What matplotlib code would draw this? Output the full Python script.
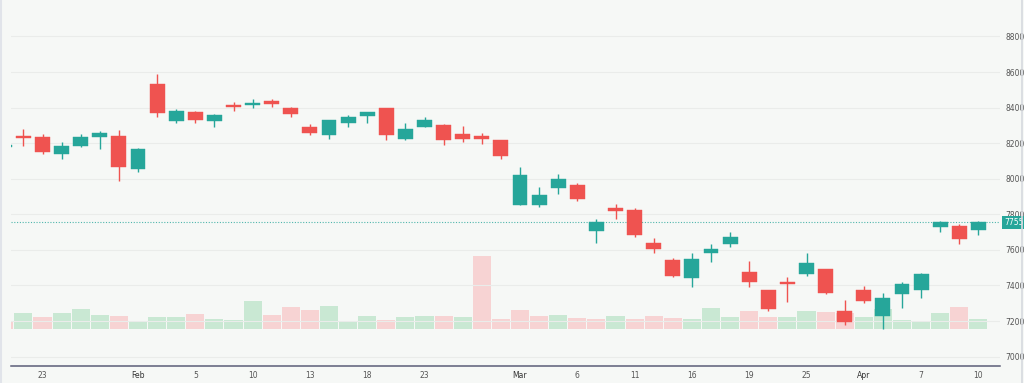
import matplotlib
matplotlib.use('Agg')
import matplotlib.pyplot as plt
import matplotlib.transforms as mtransforms
from matplotlib.lines import Line2D
from matplotlib.patches import Circle
import numpy as np

# 資料
opens = [8178, 8242, 8233, 8141, 8184, 8235, 8239, 8055, 8531, 8323,
         8374, 8323, 8417, 8415, 8436, 8396, 8289, 8244, 8315, 8353,
         8396, 8224, 8291, 8304, 8252, 8240, 8220, 7851, 7851, 7948,
         7965, 7704, 7836, 7824, 7640, 7543, 7440, 7582, 7635, 7477,
         7376, 7421, 7464, 7491, 7258, 7376, 7228, 7350, 7374, 7727,
         7734, 7710]
highs = [8195, 8280, 8252, 8208, 8252, 8270, 8274, 8175, 8587, 8392,
         8381, 8362, 8432, 8447, 8450, 8405, 8308, 8330, 8360, 8377,
         8396, 8314, 8349, 8308, 8297, 8256, 8220, 8064, 7952, 8028,
         7976, 7774, 7856, 7834, 7668, 7556, 7581, 7631, 7699, 7537,
         7376, 7449, 7584, 7491, 7318, 7397, 7359, 7421, 7472, 7762,
         7746, 7762]
lows = [8170, 8184, 8141, 8109, 8177, 8167, 7987, 8036, 8346, 8312,
        8312, 8289, 8383, 8400, 8402, 8349, 8248, 8225, 8293, 8312,
        8218, 8218, 8291, 8192, 8208, 8194, 8113, 7851, 7843, 7916,
        7877, 7640, 7774, 7671, 7584, 7446, 7393, 7532, 7614, 7393,
        7256, 7307, 7453, 7352, 7178, 7300, 7157, 7271, 7328, 7702,
        7633, 7682]
closes = [8188, 8231, 8149, 8184, 8233, 8256, 8068, 8167, 8372, 8383,
          8330, 8357, 8404, 8426, 8422, 8362, 8259, 8330, 8346, 8374,
          8244, 8282, 8329, 8220, 8225, 8222, 8128, 8021, 7910, 8000,
          7888, 7755, 7817, 7682, 7603, 7451, 7550, 7607, 7672, 7421,
          7269, 7408, 7528, 7356, 7196, 7314, 7331, 7410, 7463, 7755,
          7663, 7755]
volumes = [25, 49, 36, 49, 61, 43, 38, 24, 35, 36,
           45, 31, 28, 83, 43, 67, 56, 68, 25, 38,
           26, 35, 38, 40, 36, 218, 29, 56, 40, 41,
           34, 31, 39, 30, 40, 34, 30, 63, 35, 55,
           36, 37, 55, 51, 48, 37, 60, 27, 25, 49,
           65, 30]
prev_close = 8200

tick_pos = [2, 7, 10, 13, 16, 19, 22, 27, 30, 33, 36, 39, 42, 45, 48, 51]
tick_labels = ['23', 'Feb', '5', '10', '13', '18', '23', 'Mar',
               '6', '11', '16', '19', '25', 'Apr', '7', '10']
price_ticks = list(range(7000, 8801, 200))

UP = '#26a69a'
DOWN = '#ef5350'
VOL_UP = '#c9e8d3'
VOL_DOWN = '#f7d3d3'
BG = '#f6f8f6'

x = np.arange(len(closes))
o = np.array(opens)
c = np.array(closes)
up = c >= o
prev = np.concatenate([[prev_close], c[:-1]])
vol_up = c >= prev

fig = plt.figure(figsize=(10.24, 3.83), dpi=100, facecolor=BG)
rect = [11 / 1024, 17 / 383, 989 / 1024, 366 / 383]

# 成交量（放在下層）
axv = fig.add_axes(rect, zorder=0)
axv.patch.set_visible(False)
axv.bar(x, volumes, width=0.95, color=[VOL_UP if v else VOL_DOWN for v in vol_up])
axv.set_xlim(0.35, 52.13)
axv.set_ylim(-111, 987)
axv.axis('off')

# K 線
ax = fig.add_axes(rect, zorder=1)
ax.patch.set_visible(False)
colors = [UP if u else DOWN for u in up]
ax.vlines(x, lows, highs, colors=colors, linewidth=1.0, zorder=2)
ax.bar(x, np.abs(c - o), bottom=np.minimum(o, c), width=0.78,
       color=colors, edgecolor=colors, linewidth=0.3, zorder=3)

ax.set_xlim(0.35, 52.13)
ax.set_ylim(6947, 9005)
ax.grid(axis='y', color='#eaecea', linewidth=0.8)
ax.set_axisbelow(True)

# 最新價虛線與標籤
last = closes[-1]
ax.axhline(last, color=UP, linestyle=(0, (1, 1.5)), linewidth=0.8, alpha=0.8, zorder=1)
trans = mtransforms.blended_transform_factory(ax.transAxes, ax.transData)
ax.text(1.004, last, str(last), transform=trans, ha='left', va='center',
        fontsize=5.5, color='white', clip_on=False,
        bbox=dict(boxstyle='square,pad=0.3', fc=UP, ec='none'))

ax.yaxis.tick_right()
ax.set_yticks(price_ticks)
ax.set_yticklabels([str(p) for p in price_ticks])
ax.tick_params(axis='y', length=0, pad=4, labelsize=5.5, labelcolor='#555555')

ax.set_xticks(tick_pos)
ax.set_xticklabels(tick_labels)
ax.tick_params(axis='x', length=0, pad=3.5, labelsize=5.5, labelcolor='#555555')
for lbl in ax.get_xticklabels():
    if lbl.get_text() in ('Feb', 'Mar', 'Apr'):
        lbl.set_color('#333333')

for s in ['top', 'left', 'right']:
    ax.spines[s].set_visible(False)
ax.spines['bottom'].set_color('#5c5e78')
ax.spines['bottom'].set_linewidth(1.1)

# 邊框與右下角小圓點
fig.add_artist(Line2D([1 / 1024, 1 / 1024], [0, 1], color='#e1e4ea', linewidth=1.5))
fig.add_artist(Line2D([1021.5 / 1024, 1021.5 / 1024], [0, 1], color='#d6d9df', linewidth=1.2))
fig.add_artist(Circle((978 / 1024, -6 / 383), 0.007, transform=fig.transFigure,
                      color='#2e9e50', clip_on=False))

fig.savefig('out.png', dpi=100, facecolor=BG)
